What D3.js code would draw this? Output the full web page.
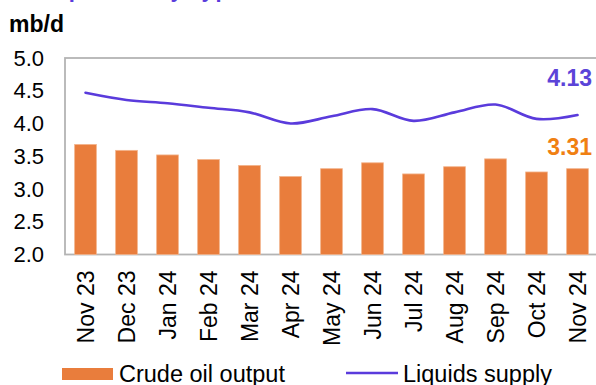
<!DOCTYPE html>
<html>
<head>
<meta charset="utf-8">
<script src="https://cdn.jsdelivr.net/npm/d3@7"></script>
<style>
  html, body { margin: 0; padding: 0; background: #fff; }
  svg { display: block; font-family: Arial, "Liberation Sans", sans-serif; }
</style>
</head>
<body>
<svg id="chart" width="596" height="385"></svg>
<script>
// Monthly categories
const months = ["Nov 23", "Dec 23", "Jan 24", "Feb 24", "Mar 24", "Apr 24", "May 24",
                "Jun 24", "Jul 24", "Aug 24", "Sep 24", "Oct 24", "Nov 24"];
// Crude oil output, mb/d
const crudeOutput = [3.68, 3.59, 3.52, 3.45, 3.36, 3.19, 3.31, 3.40, 3.23, 3.34, 3.46, 3.26, 3.31];
// Total liquids supply, mb/d
const liquidsSupply = [4.47, 4.36, 4.31, 4.24, 4.17, 4.00, 4.11, 4.22, 4.04, 4.17, 4.29, 4.07, 4.13];
// Y axis ticks
const yTicks = [2.0, 2.5, 3.0, 3.5, 4.0, 4.5, 5.0];
const seriesNames = ["Crude oil output", "Liquids supply"];

const barColor = "#E97D3C";
const lineColor = "#5A3BDC";

const svg = d3.select("#chart");

const plot = { left: 65, right: 598, top: 58, bottom: 254.5 };

const x = d3.scaleBand()
  .domain(months)
  .range([plot.left, plot.right])
  .paddingInner(0.47)
  .paddingOuter(0.235);

const y = d3.scaleLinear()
  .domain([2, 5])
  .range([plot.bottom, plot.top]);

// Heading (runs off the top edge)
svg.append("text")
  .attr("x", 9)
  .attr("y", -3)
  .attr("font-size", 22)
  .attr("font-weight", "bold")
  .attr("fill", "#5A3BDC")
  .attr("textLength", 234)
  .text("Group total by type");

// Units label
svg.append("text")
  .attr("x", 9)
  .attr("y", 32)
  .attr("font-size", 23)
  .attr("font-weight", "bold")
  .attr("fill", "#000")
  .text("mb/d");

// Plot frame
svg.append("rect")
  .attr("x", plot.left)
  .attr("y", plot.top)
  .attr("width", plot.right - plot.left)
  .attr("height", plot.bottom - plot.top)
  .attr("fill", "none")
  .attr("stroke", "#b4b4b4")
  .attr("stroke-width", 1.8);

// Bars
svg.append("g")
  .selectAll("rect")
  .data(crudeOutput)
  .join("rect")
  .attr("x", (d, i) => x(months[i]))
  .attr("y", d => y(d))
  .attr("width", x.bandwidth())
  .attr("height", d => y(2) - y(d))
  .attr("fill", barColor)
  .attr("stroke", "#F3B48C")
  .attr("stroke-width", 0.8);

// Liquids line
const line = d3.line()
  .x((d, i) => x(months[i]) + x.bandwidth() / 2)
  .y(d => y(d))
  .curve(d3.curveCatmullRom.alpha(0.5));

svg.append("path")
  .datum(liquidsSupply)
  .attr("d", line)
  .attr("fill", "none")
  .attr("stroke", lineColor)
  .attr("stroke-width", 2.6)
  .attr("stroke-linecap", "round");

// Latest value labels
svg.append("text")
  .attr("x", 592)
  .attr("y", 86)
  .attr("text-anchor", "end")
  .attr("font-size", 23)
  .attr("font-weight", "bold")
  .attr("fill", "#5B44D8")
  .text(liquidsSupply[liquidsSupply.length - 1].toFixed(2));

svg.append("text")
  .attr("x", 592)
  .attr("y", 155)
  .attr("text-anchor", "end")
  .attr("font-size", 23)
  .attr("font-weight", "bold")
  .attr("fill", "#F08012")
  .text(crudeOutput[crudeOutput.length - 1].toFixed(2));

// Y axis
const yAxis = svg.append("g")
  .attr("transform", `translate(${plot.left},0)`)
  .call(d3.axisLeft(y).tickValues(yTicks).tickSize(0).tickPadding(21).tickFormat(d3.format(".1f")));
yAxis.select(".domain").remove();
yAxis.selectAll("text")
  .attr("font-size", 22)
  .attr("font-family", "Arial, 'Liberation Sans', sans-serif")
  .attr("fill", "#000");

// X axis
const xAxis = svg.append("g")
  .attr("transform", `translate(0,${plot.bottom})`)
  .call(d3.axisBottom(x).tickSize(0).tickPadding(0));
xAxis.select(".domain").remove();
xAxis.selectAll("text")
  .attr("font-size", 23)
  .attr("font-family", "Arial, 'Liberation Sans', sans-serif")
  .attr("fill", "#000")
  .attr("text-anchor", "end")
  .attr("transform", "translate(0,16) rotate(-90)")
  .attr("x", 0)
  .attr("y", 0)
  .attr("dy", "0.36em");

// Legend
const legend = svg.append("g");
legend.append("rect")
  .attr("x", 62).attr("y", 368)
  .attr("width", 51).attr("height", 12)
  .attr("fill", barColor);
legend.append("text")
  .attr("x", 119).attr("y", 382)
  .attr("font-size", 23.5)
  .attr("fill", "#000")
  .text(seriesNames[0]);
legend.append("line")
  .attr("x1", 346).attr("x2", 398)
  .attr("y1", 373).attr("y2", 373)
  .attr("stroke", lineColor)
  .attr("stroke-width", 2.6);
legend.append("text")
  .attr("x", 403).attr("y", 382)
  .attr("font-size", 23.5)
  .attr("fill", "#000")
  .text(seriesNames[1]);
</script>
</body>
</html>
